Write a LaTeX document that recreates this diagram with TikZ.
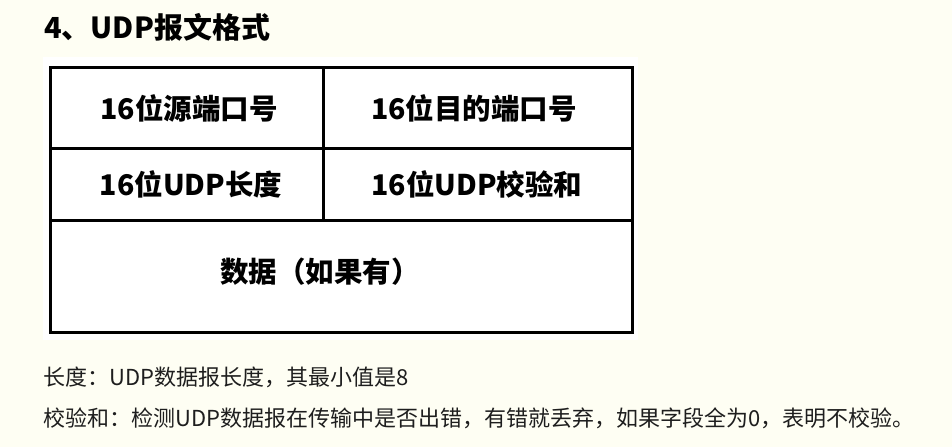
\documentclass[tikz,border=0pt]{standalone}
\usepackage{fontspec}
\setmainfont{Noto Sans CJK SC}
\usepackage{tikz}
\usetikzlibrary{calc}
\definecolor{pagebg}{HTML}{FEFEF3}
\definecolor{notetext}{HTML}{1E1E1E}

\begin{document}
\begin{tikzpicture}[x=1pt, y=-1pt,
  cell/.style={font=\fontsize{28.5}{32}\selectfont\bfseries, inner sep=0pt},
  note/.style={anchor=west, font=\fontsize{22}{26}\selectfont,
    text=notetext, inner sep=0pt},
  rule/.style={line width=3pt}]
  % page and table backdrop
  \fill[pagebg] (0,0) rectangle (952,447);
  \fill[white] (43,57) rectangle (638,340);
  \node[anchor=west, font=\fontsize{29}{33}\selectfont\bfseries,
    inner sep=0pt] (title) at (44,27) {4、UDP报文格式};
  % table frame
  \draw[rule] (50,67) rectangle (632,332);
  \draw[rule] (323,67) -- (323,221);
  \draw[rule] (50,148) -- (632,148);
  \draw[rule] (50,220) -- (632,220);
  \node[cell] (srcport) at (189,108) {16位源端口号};
  \node[cell] (dstport) at (474,108) {16位目的端口号};
  \node[cell] (udplen) at (191,184) {16位UDP长度};
  \node[cell] (udpsum) at (477,184) {16位UDP校验和};
  \node[cell] (payload) at (320,272) {数据（如果有）};
  % notes below the table
  \node[note] (lennote) at (43,377) {长度：UDP数据报长度，其最小值是8};
  \node[note] (sumnote) at (43,418)
  {校验和：检测UDP数据报在传输中是否出错，有错就丢弃，如果字段全为0，表明不校验。};
\end{tikzpicture}
\end{document}
